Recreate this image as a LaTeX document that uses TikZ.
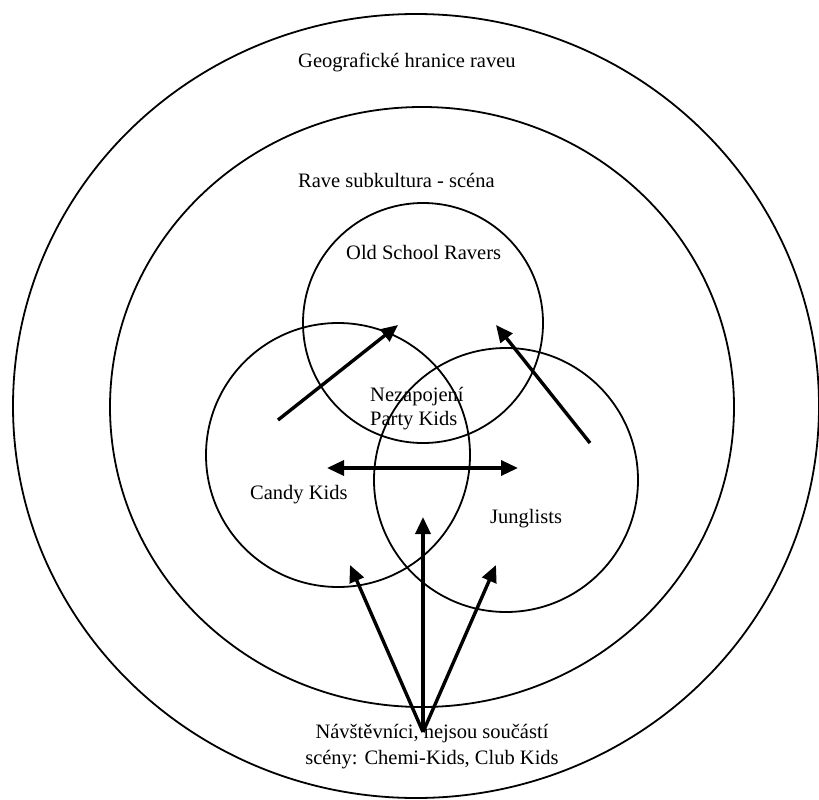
\documentclass[tikz,border=0pt]{standalone}
\usepackage{fontspec}
\setmainfont{Liberation Serif}
\usetikzlibrary{arrows.meta}
\begin{document}
\begin{tikzpicture}[x=1pt,y=-1pt,
  ring/.style={line width=1.8pt},
  flow/.style={line width=3.4pt,-{Triangle[length=17pt,width=15pt]}},
  flowboth/.style={line width=3.4pt,{Triangle[length=17pt,width=15pt]}-{Triangle[length=17pt,width=15pt]}},
  lbl/.style={font=\fontsize{20.5}{25}\selectfont,inner sep=0pt}]
\useasboundingbox (0,0) rectangle (819,800);
% rings
\draw[ring] (416,406) ellipse [x radius=403pt, y radius=392pt];
\draw[ring] (422,407) ellipse [x radius=312pt, y radius=300pt];
\draw[ring] (423,323) circle [radius=120pt];
\draw[ring] (338,455) circle [radius=132pt];
\draw[ring] (506,480) circle [radius=132pt];
% labels
\node[lbl,anchor=base west] (geo) at (298,67) {Geografické hranice raveu};
\node[lbl,anchor=base west] (rave) at (298,187) {Rave subkultura - scéna};
\node[lbl,anchor=base west] (old) at (346,259) {Old School Ravers};
\node[lbl,anchor=base west] (nez) at (370,401) {Nezapojení};
\node[lbl,anchor=base west] (party) at (370,425) {Party Kids};
\node[lbl,anchor=base west] (candy) at (250,499) {Candy Kids};
\node[lbl,anchor=base west] (jung) at (490,523) {Junglists};
\node[lbl,anchor=base] (nav1) at (432,738) {Návštěvníci, nejsou součástí};
\node[lbl,anchor=base] (nav2) at (432,764) {scény: Chemi-Kids, Club Kids};
% arrow end points
\coordinate (ulS) at (278,420);
\coordinate (ulE) at (398,325);
\coordinate (urS) at (590,443);
\coordinate (urE) at (496,325);
\coordinate (dL) at (327,468);
\coordinate (dR) at (518,468);
\coordinate (src) at (423,732);
\coordinate (vE) at (423,517);
\coordinate (lE) at (350,565);
\coordinate (rE) at (496,565);
% arrows
\draw[flow] (ulS) -- (ulE);
\draw[flow] (urS) -- (urE);
\draw[flowboth] (dL) -- (dR);
\draw[flow] (src) -- (vE);
\draw[flow] (src) -- (lE);
\draw[flow] (src) -- (rE);
\end{tikzpicture}
\end{document}
